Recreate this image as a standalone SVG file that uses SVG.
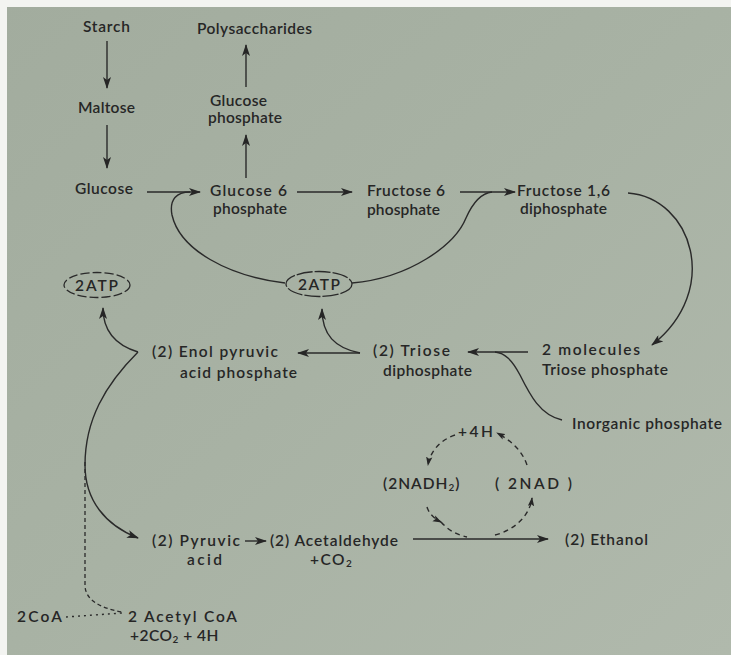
<svg xmlns="http://www.w3.org/2000/svg" width="731" height="655" viewBox="0 0 731 655">
<defs>
<linearGradient id="bg" x1="0" y1="0" x2="1" y2="1">
<stop offset="0" stop-color="#a2ac9e"/>
<stop offset="0.5" stop-color="#a8b2a4"/>
<stop offset="1" stop-color="#b0b9ac"/>
</linearGradient>
<marker id="ah" viewBox="0 0 12 8" refX="11" refY="4" markerWidth="12" markerHeight="8" markerUnits="userSpaceOnUse" orient="auto">
<path d="M0,0 L12,4 L0,8 L3,4 Z" fill="#262626"/>
</marker>
<marker id="ahs" viewBox="0 0 10 7" refX="9" refY="3.5" markerWidth="9" markerHeight="7" markerUnits="userSpaceOnUse" orient="auto">
<path d="M0,0 L10,3.5 L0,7 L2,3.5 Z" fill="#262626"/>
</marker>
</defs>
<style>
text{font-family:Lato,"Liberation Sans",sans-serif;font-size:15.5px;font-weight:600;fill:#262626}
.c path{fill:none;stroke:#2a2a2a;stroke-width:1.4}
.c .a{marker-end:url(#ah)}
.c .as{marker-end:url(#ahs)}
.c .d{stroke-dasharray:5 4}
.c .dd{stroke-dasharray:4 3;stroke-width:1.3}
.c .dt{stroke-dasharray:2 4}
.atp{fill:none;stroke:#2a2a2a;stroke-width:1.3}
</style>
<rect width="731" height="655" fill="url(#bg)"/>
<rect width="731" height="7" fill="#f3f4f1"/>
<rect width="7" height="655" fill="#f3f4f1"/>

<g class="c" id="connectors">
<path class="a" d="M107,41 V88"/>
<path class="a" d="M107,125 V168"/>
<path class="a" d="M147,192 H200"/>
<path class="a" d="M246,178 V135"/>
<path class="a" d="M246,87 V45"/>
<path class="a" d="M297,192 H352"/>
<path class="a" d="M460,192 H515"/>
<path class="a" d="M628,193 C692,198 722,290 652,345"/>
<path d="M285,283 C228,276 180,250 172,215 C169,199 177,192 190,192"/>
<path d="M352,283 C410,278 455,245 466,218 C474,200 482,193 492,192"/>
<path class="a" d="M528,352 H468"/>
<path d="M562,420 C540,415 530,395 520,375 C512,360 505,353 495,352"/>
<path class="a" d="M360,353 H298"/>
<path class="a" d="M360,353 C335,348 322,335 322,309"/>
<path class="a" d="M138,352 C115,345 103,330 103,308"/>
<path class="a" d="M138,352 C105,385 85,420 85,465 C85,500 105,525 138,538"/>
<path class="dd" d="M85,462 V585 C85,600 100,608 122,612"/>
<path class="dt" d="M66,617 L122,613"/>
<path class="a" d="M245,541 H266"/>
<path class="a" d="M413,539 H548"/>
<path class="d as" d="M455,435 C440,440 430,452 428,465"/>
<path class="d as" d="M427,507 C429,513 433,518 441,522"/>
<path class="d" d="M441,522 C448,530 457,535 467,537"/>
<path class="d as" d="M495,535 C515,530 530,515 532,498"/>
<path class="d as" d="M527,465 C522,450 510,440 497,433"/>
</g>

<g id="starch"><text x="83" y="32" textLength="47">Starch</text></g>
<g id="polysaccharides"><text x="197" y="34" textLength="115">Polysaccharides</text></g>
<g id="maltose"><text x="78" y="113" textLength="57">Maltose</text></g>
<g id="glucose-phosphate"><text x="210" y="106" textLength="57">Glucose</text><text x="208" y="123" textLength="74">phosphate</text></g>
<g id="glucose"><text x="75" y="194" textLength="58">Glucose</text></g>
<g id="glucose-6-phosphate"><text x="210" y="196" textLength="77">Glucose 6</text><text x="213" y="214" textLength="74">phosphate</text></g>
<g id="fructose-6-phosphate"><text x="367" y="196" textLength="78">Fructose 6</text><text x="367" y="215" textLength="73">phosphate</text></g>
<g id="fructose-16-diphosphate"><text x="517" y="196" textLength="93">Fructose 1,6</text><text x="520" y="214" textLength="87">diphosphate</text></g>
<g id="atp-left"><ellipse class="atp" cx="97" cy="285" rx="33" ry="12.5" stroke-dasharray="9 3"/><text x="75" y="291" textLength="43">2ATP</text></g>
<g id="atp-mid"><ellipse class="atp" cx="319" cy="284" rx="33" ry="12.5" stroke-dasharray="16 2"/><text x="298" y="290" textLength="42">2ATP</text></g>
<g id="enol-pyruvic"><text x="152" y="357" textLength="126">(2) Enol pyruvic</text><text x="180" y="378" textLength="117">acid phosphate</text></g>
<g id="triose-diphosphate"><text x="373" y="356" textLength="77">(2) Triose</text><text x="383" y="376" textLength="89">diphosphate</text></g>
<g id="triose-phosphate"><text x="542" y="355" textLength="98">2 molecules</text><text x="542" y="375" textLength="126">Triose phosphate</text></g>
<g id="inorganic-phosphate"><text x="572" y="429" textLength="150">Inorganic phosphate</text></g>
<g id="plus-4h"><text x="458" y="437" textLength="35">+4H</text></g>
<g id="nadh2"><text x="383" y="489" letter-spacing="1">(2NADH<tspan font-size="10" dy="2">2</tspan><tspan dy="-2">)</tspan></text></g>
<g id="nad"><text x="495" y="489" textLength="77">( 2NAD )</text></g>
<g id="pyruvic"><text x="152" y="546" textLength="88">(2) Pyruvic</text><text x="187" y="565" textLength="35">acid</text></g>
<g id="acetaldehyde"><text x="270" y="546" textLength="128">(2) Acetaldehyde</text><text x="310" y="565" letter-spacing="1.5">+CO<tspan font-size="10" dy="2">2</tspan></text></g>
<g id="ethanol"><text x="565" y="545" textLength="83">(2) Ethanol</text></g>
<g id="coa"><text x="17" y="622" textLength="45">2CoA</text></g>
<g id="acetyl-coa"><text x="128" y="622" textLength="109">2 Acetyl CoA</text><text x="130" y="641" letter-spacing="0.5">+2CO<tspan font-size="10" dy="2">2</tspan><tspan dy="-2"> + 4H</tspan></text></g>
</svg>
